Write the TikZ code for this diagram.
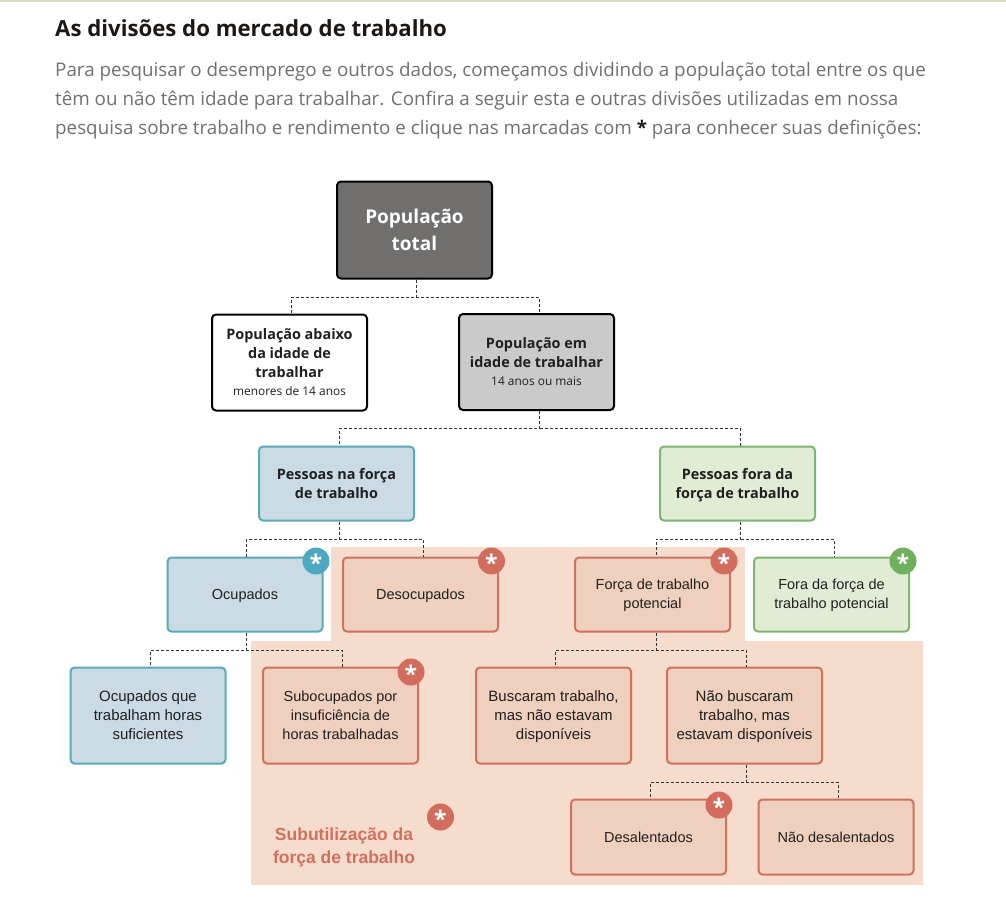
\documentclass[tikz,border=0pt]{standalone}
\usepackage{fontspec}
\usepackage{tikz}
\usetikzlibrary{positioning}
\setmainfont{Open Sans}
\newfontfamily\arialfont{Liberation Sans}
\definecolor{topline}{RGB}{216,220,196}
\definecolor{titleink}{RGB}{28,24,22}
\definecolor{bodygrey}{RGB}{112,112,112}
\definecolor{totalgrey}{RGB}{112,111,110}
\definecolor{workgrey}{RGB}{202,202,202}
\definecolor{boxink}{RGB}{32,32,32}
\definecolor{tealFill}{RGB}{203,219,227}
\definecolor{tealLine}{RGB}{90,169,186}
\definecolor{tealDot}{RGB}{78,168,192}
\definecolor{greenFill}{RGB}{225,236,212}
\definecolor{greenLine}{RGB}{124,182,111}
\definecolor{greenDot}{RGB}{111,176,93}
\definecolor{redFill}{RGB}{239,207,189}
\definecolor{redLine}{RGB}{208,112,95}
\definecolor{redDot}{RGB}{210,108,92}
\definecolor{redBack}{RGB}{245,220,205}
\tikzset{
  box/.style={draw, rounded corners=4, line width=2, align=center, minimum width=155, text=boxink, text depth=0pt},
  boxhead/.style={box, draw=black, font=\fontsize{14.4}{19}\selectfont\bfseries},
  boxplain/.style={box, font=\arialfont\fontsize{14.5}{19}\selectfont},
  teal/.style={boxplain, draw=tealLine, fill=tealFill},
  green/.style={boxplain, draw=greenLine, fill=greenFill},
  red/.style={boxplain, draw=redLine, fill=redFill},
  wider/.style={font=\arialfont\fontsize{15}{19}\selectfont},
  dot/.style={circle, inner sep=0, minimum size=27, text=white, font=\fontsize{23}{23}\selectfont\bfseries},
  link/.style={draw=black!80, dash pattern=on 3 off 2, line width=0.7},
}
\begin{document}
\begin{tikzpicture}[x=1pt, y=-1pt]
  \useasboundingbox (0,0) rectangle (1006,910);
  \fill[topline] (0,0) rectangle (1006,1.5);
  \node[anchor=base west, inner sep=0, text=titleink, font=\fontsize{22.2}{26}\selectfont\bfseries] (title) at (55,36) {As divisões do mercado de trabalho};
  \node[anchor=north west, inner sep=0, align=left, text=bodygrey, font=\fontsize{18.8}{29}\selectfont] (intro) at (55,62)
    {Para pesquisar o desemprego e outros dados, começamos dividindo a população total entre os que\\
     têm ou não têm idade para trabalhar. Confira a seguir esta e outras divisões utilizadas em nossa\\
     pesquisa sobre trabalho e rendimento e clique nas marcadas com \textcolor{titleink}{\textbf{*}} para conhecer suas definições:};

  \fill[redBack] (331,547) -- (745,547) -- (745,641) -- (923,641) -- (923,885) -- (251,885) -- (251,641) -- (331,641) -- cycle;

  \node[boxhead, fill=totalgrey, text=white, minimum height=97, font=\fontsize{19}{27}\selectfont\bfseries] (total) at (414.5,230) {População\\total};
  \node[boxhead, fill=white, minimum height=96] (abaixo) at (289.5,362.5) {População abaixo\\da idade de\\trabalhar\\[-1pt]{\fontsize{11.9}{17}\selectfont\mdseries menores de 14 anos}};
  \node[boxhead, fill=workgrey, minimum height=96] (idade) at (536.5,362) {População em\\idade de trabalhar\\[-1pt]{\fontsize{11.9}{17}\selectfont\mdseries 14 anos ou mais}};
  \node[boxhead, draw=tealLine, fill=tealFill, minimum height=74] (naforca) at (336.5,483.5) {Pessoas na força\\de trabalho};
  \node[boxhead, draw=greenLine, fill=greenFill, minimum height=74] (foraforca) at (737.5,483.5) {Pessoas fora da\\força de trabalho};

  \node[teal, minimum height=74] (ocupados) at (245,594.5) {Ocupados};
  \node[red, minimum height=74] (desocupados) at (420.5,594.5) {Desocupados};
  \node[red, text depth=1.5pt, minimum height=74] (potencial) at (652.5,594.5) {Força de trabalho\\potencial};
  \node[green, text depth=1.5pt, minimum height=74] (forapot) at (831.5,594.5) {Fora da força de\\trabalho potencial};
  \node[teal, wider, minimum height=96] (suficientes) at (148,715.5) {Ocupados que\\trabalham horas\\suficientes};
  \node[red, minimum height=96] (subocupados) at (340.5,715.5) {Subocupados por\\insuficiência de\\horas trabalhadas};
  \node[red, wider, minimum height=96] (buscaram) at (553.5,715.5) {Buscaram trabalho,\\mas não estavam\\disponíveis};
  \node[red, wider, minimum height=96] (naobusc) at (744.5,715.5) {Não buscaram\\trabalho, mas\\estavam disponíveis};
  \node[red, minimum height=75] (desalentados) at (648.5,837) {Desalentados};
  \node[red, minimum height=75] (naodes) at (836,837) {Não desalentados};

  \node[anchor=center, inner sep=0, align=center, text=redLine, font=\arialfont\fontsize{17.5}{22.5}\selectfont\bfseries] (subutil) at (344,847.5) {Subutilização da\\força de trabalho};

  \foreach \from/\off/\left/\loff/\right/\roff in {total/1.5/abaixo/1.5/idade/3,
      idade/3/naforca/2.5/foraforca/3, naforca/2.5/ocupados/1/desocupados/2.5,
      foraforca/3/potencial/3.5/forapot/2.5, ocupados/1/suficientes/2/subocupados/1.5,
      potencial/3.5/buscaram/1.5/naobusc/1.5, naobusc/1.5/desalentados/1.5/naodes/2} {
    \draw[link] ([xshift=\off]\from.south) -- ++(0,17.5) coordinate (\from-mid) -| ([xshift=\loff]\left.north);
    \draw[link] (\from-mid) -| ([xshift=\roff]\right.north);
  }

  \foreach \name/\x/\y/\col in {ocupadosdot/316/561/tealDot, desocupadosdot/491.5/561/redDot,
      potencialdot/724/561/redDot, forapotdot/903/561/greenDot, subocupadosdot/411/672/redDot,
      desalentadosdot/719/805/redDot, subutildot/440.5/817/redDot} {
    \node[dot, fill=\col] (\name) at (\x,\y) {\raisebox{-10.7pt}[0pt][0pt]{*}};
  }
\end{tikzpicture}
\end{document}
